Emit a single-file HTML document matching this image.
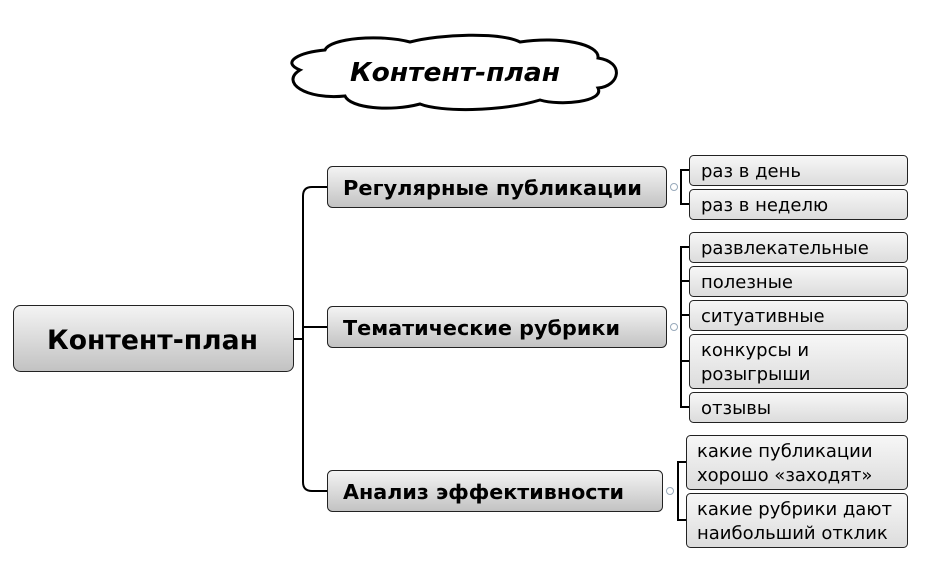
<!DOCTYPE html>
<html><head><meta charset="utf-8"><style>
body{margin:0;background:#fff;width:931px;height:562px;overflow:hidden}
text{font-family:"DejaVu Sans","Liberation Sans",sans-serif;fill:#000}
</style></head><body>
<svg width="931" height="562" viewBox="0 0 931 562" xmlns="http://www.w3.org/2000/svg">
<defs>
<linearGradient id="g" x1="0" y1="0" x2="0" y2="1">
<stop offset="0" stop-color="#f4f4f4"/><stop offset="1" stop-color="#c2c2c2"/></linearGradient>
<linearGradient id="g2" x1="0" y1="0" x2="0" y2="1">
<stop offset="0" stop-color="#f7f7f7"/><stop offset="1" stop-color="#dcdcdc"/></linearGradient>
</defs>
<path d="M300,70 C280,62 300,52 325,50 C330,38 380,34 410,42 C440,34 500,32 520,42 C560,36 600,44 598,58 C625,62 620,86 598,88 C605,102 560,106 540,100 C500,112 440,112 420,104 C390,112 350,108 345,96 C305,100 280,82 300,70 Z" fill="#fff" stroke="#000" stroke-width="3"/>
<text x="350" y="81" font-size="26" font-weight="bold" font-style="italic" textLength="210" lengthAdjust="spacingAndGlyphs">Контент-план</text>
<g fill="none" stroke="#000" stroke-width="2">
<path d="M294,339 H303"/>
<path d="M327,187 H312 Q303,187 303,196 V482 Q303,491 312,491 H327"/>
<path d="M303,327 H327"/>
<path d="M689,170 H681 V204 H689"/>
<path d="M689,247 H681 V407 H689 M681,281 H689 M681,315 H689 M681,361 H689"/>
<path d="M686,462 H678 V520 H686"/>
</g>
<g fill="#fff" stroke="#9ab" stroke-width="1">
<circle cx="674" cy="187" r="3.5"/><circle cx="674" cy="327" r="3.5"/><circle cx="670" cy="491" r="3.5"/>
</g>
<rect x="13.5" y="305.5" width="280" height="66" rx="7" fill="url(#g)" stroke="#222"/>
<text x="47" y="349" font-size="27" font-weight="bold" textLength="211" lengthAdjust="spacingAndGlyphs">Контент-план</text>
<rect x="327.5" y="166.5" width="339" height="41" rx="5" fill="url(#g)" stroke="#222"/>
<text x="343" y="195" font-size="20.5" font-weight="bold" textLength="299" lengthAdjust="spacingAndGlyphs">Регулярные публикации</text>
<rect x="327.5" y="306.5" width="339" height="41" rx="5" fill="url(#g)" stroke="#222"/>
<text x="343" y="335" font-size="20.5" font-weight="bold" textLength="277" lengthAdjust="spacingAndGlyphs">Тематические рубрики</text>
<rect x="327.5" y="470.5" width="335" height="41" rx="5" fill="url(#g)" stroke="#222"/>
<text x="343" y="499" font-size="20.5" font-weight="bold" textLength="281" lengthAdjust="spacingAndGlyphs">Анализ эффективности</text>
<g fill="url(#g2)" stroke="#222">
<rect x="689.5" y="155.5" width="218" height="30" rx="4"/>
<rect x="689.5" y="189.5" width="218" height="30" rx="4"/>
<rect x="689.5" y="232.5" width="218" height="30" rx="4"/>
<rect x="689.5" y="266.5" width="218" height="30" rx="4"/>
<rect x="689.5" y="300.5" width="218" height="30" rx="4"/>
<rect x="689.5" y="334.5" width="218" height="54" rx="4"/>
<rect x="689.5" y="392.5" width="218" height="30" rx="4"/>
<rect x="686.5" y="435.5" width="221" height="54" rx="4"/>
<rect x="686.5" y="493.5" width="221" height="54" rx="4"/>
</g>
<g font-size="18">
<text x="701" y="177">раз в день</text>
<text x="701" y="211">раз в неделю</text>
<text x="701" y="254">развлекательные</text>
<text x="701" y="288">полезные</text>
<text x="701" y="322">ситуативные</text>
<text x="701" y="356">конкурсы и</text>
<text x="701" y="380">розыгрыши</text>
<text x="701" y="414">отзывы</text>
<text x="697" y="457">какие публикации</text>
<text x="697" y="481">хорошо «заходят»</text>
<text x="697" y="515">какие рубрики дают</text>
<text x="697" y="539">наибольший отклик</text>
</g>
</svg>
</body></html>
